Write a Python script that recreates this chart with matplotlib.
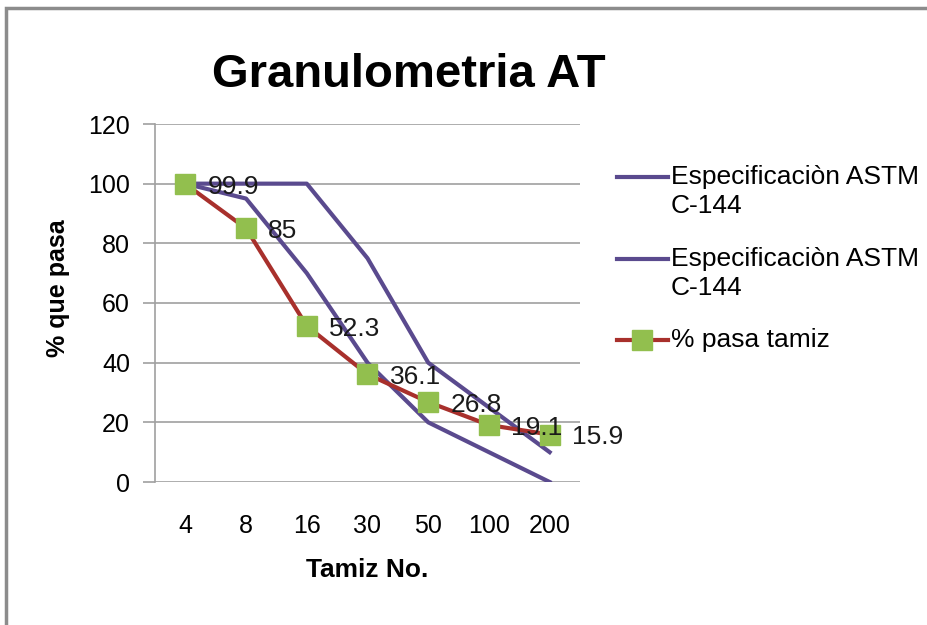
import numpy as np
import matplotlib
import matplotlib.pyplot as plt
from matplotlib.patches import Rectangle
from matplotlib.lines import Line2D

matplotlib.rcParams['font.family'] = ['Liberation Sans', 'DejaVu Sans']

tamiz = ['4', '8', '16', '30', '50', '100', '200']
spec_sup = [100, 100, 100, 75, 40, 25, 10]
spec_inf = [100, 95, 70, 40, 20, 10, 0]
pasa = [99.9, 85, 52.3, 36.1, 26.8, 19.1, 15.9]
etiquetas = ['99.9', '85', '52.3', '36.1', '26.8', '19.1', '15.9']
leyenda = ['Especificaciòn ASTM\nC-144', 'Especificaciòn ASTM\nC-144', '% pasa tamiz']

W, H = 928, 625
fig = plt.figure(figsize=(W / 100, H / 100), dpi=100)
ax = fig.add_axes([155 / W, 1 - 482 / H, 425 / W, 358 / H])

# marco gris del grafico
fig.patches.append(Rectangle((0.006, -0.01), 1.2, 0.998, transform=fig.transFigure,
                             fill=False, edgecolor='#8c8c8c', linewidth=2.5))

x = np.arange(len(tamiz))
purple = '#5a4a8e'
red = '#a8302c'
green = '#92bf4e'
ax.plot(x, spec_sup, color=purple, lw=3)
ax.plot(x, spec_inf, color=purple, lw=3)
ax.plot(x, pasa, color=red, lw=3, marker='s', markersize=15,
        markerfacecolor=green, markeredgecolor=green)

for xi, yi, t in zip(x, pasa, etiquetas):
    ax.annotate(t, (xi, yi), xytext=(16, -2), textcoords='offset points',
                va='center', ha='left', fontsize=19, color='#1a1a1a')

ax.set_xlim(-0.5, len(tamiz) - 0.5)
ax.set_ylim(0, 120)
ax.set_yticks(range(0, 121, 20))
ax.set_xticks(x)
ax.set_xticklabels(tamiz)
ax.tick_params(axis='x', length=0, labelsize=18, pad=23)
ax.tick_params(axis='y', length=9, color='#a0a0a0', width=1.2, labelsize=18, pad=9)
ax.yaxis.grid(True, color='#a0a0a0', lw=1.2)
ax.set_axisbelow(True)
for s in ['top', 'right', 'bottom']:
    ax.spines[s].set_visible(False)
ax.spines['left'].set_color('#a0a0a0')
ax.spines['left'].set_linewidth(1.2)

fig.text(58 / W, 1 - 288 / H, '% que pasa', rotation=90, fontsize=18,
         fontweight='bold', ha='center', va='center')
fig.text(367 / W, 1 - 570 / H, 'Tamiz No.', fontsize=19,
         fontweight='bold', ha='center', va='center')

fig.text(0.44, 0.88, 'Granulometria AT', fontsize=34, fontweight='bold',
         ha='center', va='center')

# leyenda a la derecha
estilos = [dict(color=purple), dict(color=purple),
           dict(color=red, marker='s', markersize=15, markerfacecolor=green,
                markeredgecolor=green, markevery=[1])]
filas = [177, 259, 340]
for lab, est, yy in zip(leyenda, estilos, filas):
    yf = 1 - yy / H
    fig.add_artist(Line2D([617 / W, 642 / W, 668 / W], [yf, yf, yf], lw=3,
                          transform=fig.transFigure, **est))
    fig.text(671 / W, 1 - (yy - 12) / H, lab, fontsize=19, ha='left', va='top',
             linespacing=1.25)

plt.savefig('out.png', dpi=100)
